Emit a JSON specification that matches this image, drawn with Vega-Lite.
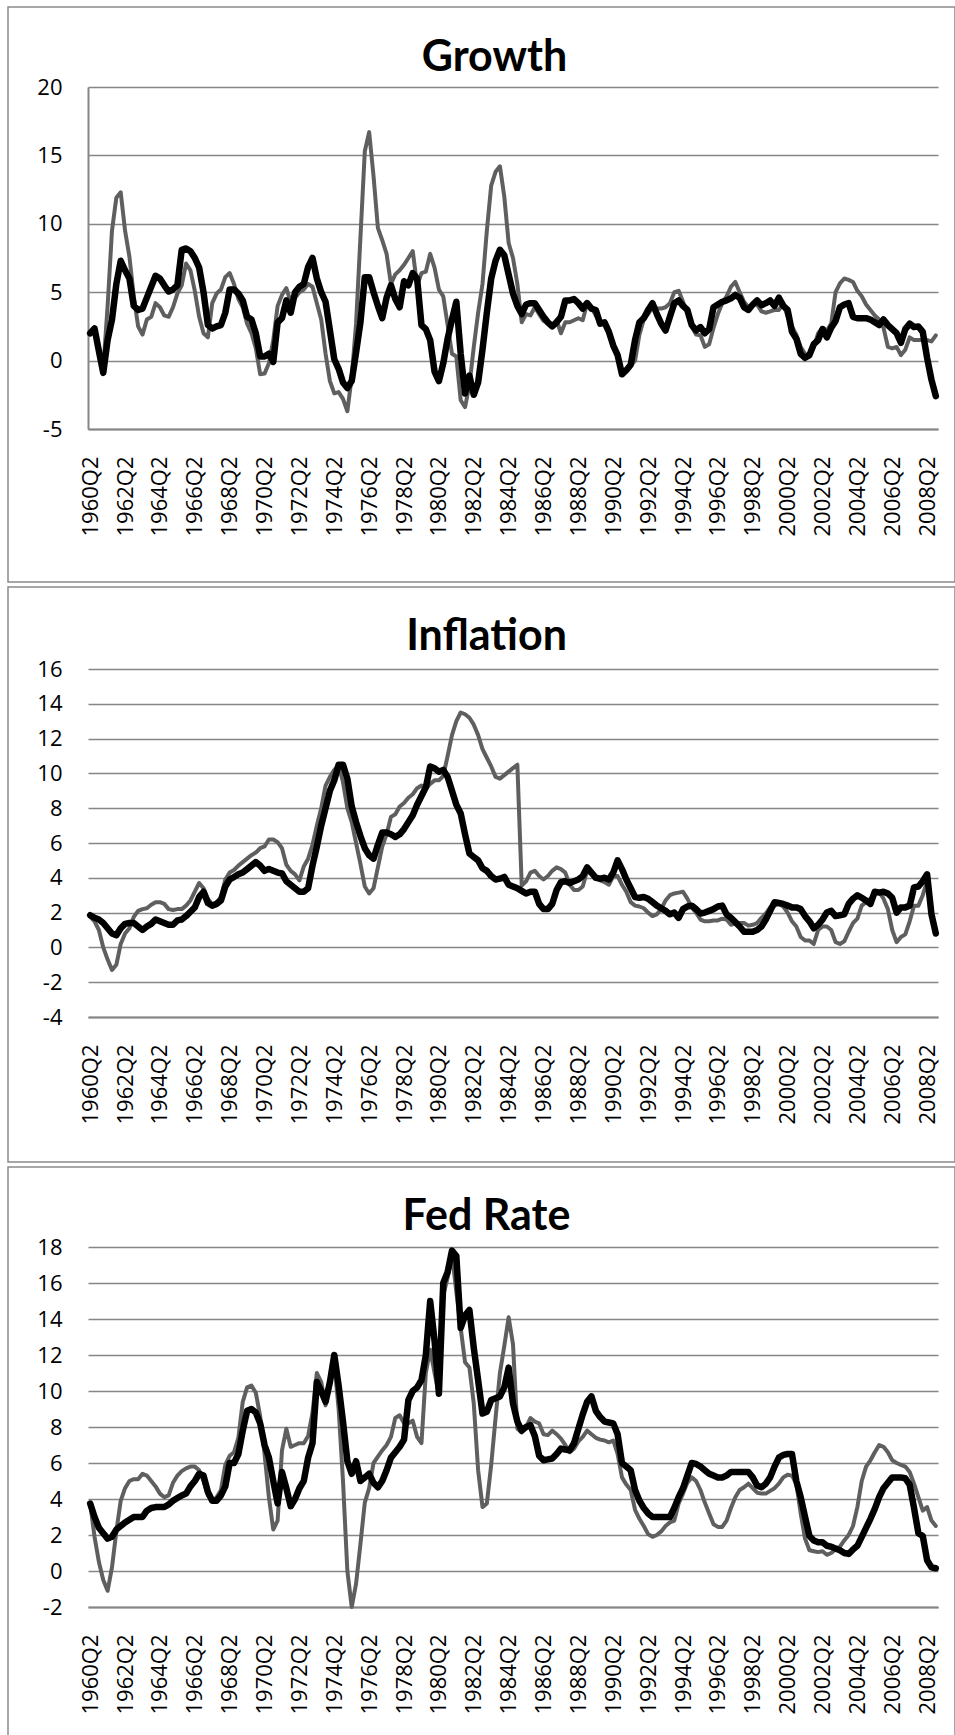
{
  "$schema": "https://vega.github.io/schema/vega-lite/v6.json",
  "background": "white",
  "padding": {"left": 7, "top": 6, "right": 0, "bottom": 0},
  "spacing": 3,
  "config": {
    "view": {"stroke": "#8a8a8a", "strokeWidth": 1.5},
    "axis": {"labelFont": "Open Sans", "labelFontSize": 22, "labelColor": "#000000", "ticks": false, "tickSize": 0, "title": null, "gridColor": "#868686", "gridWidth": 1.3, "domainColor": "#868686", "domainWidth": 2, "labelOverlap": false, "labelBound": false, "labelFlush": false},
    "title": {"font": "Lato", "fontSize": 43, "fontWeight": "bold", "color": "#000000", "anchor": "middle", "frame": "group", "baseline": "alphabetic"}
  },
  "datasets": {
    "growth": [
      {"q":"1960Q2","a":2.0,"b":2.0},{"q":"1960Q3","a":2.4,"b":2.35},{"q":"1960Q4","a":0.8,"b":0.7},
      {"q":"1961Q1","a":-0.6,"b":-0.9},{"q":"1961Q2","a":4.0,"b":1.5},{"q":"1961Q3","a":9.5,"b":3.0},{"q":"1961Q4","a":11.9,"b":5.6},
      {"q":"1962Q1","a":12.3,"b":7.3},{"q":"1962Q2","a":9.5,"b":6.6},{"q":"1962Q3","a":7.6,"b":6.0},{"q":"1962Q4","a":4.7,"b":4.0},
      {"q":"1963Q1","a":2.5,"b":3.7},{"q":"1963Q2","a":1.9,"b":3.8},{"q":"1963Q3","a":3.0,"b":4.6},{"q":"1963Q4","a":3.2,"b":5.4},
      {"q":"1964Q1","a":4.2,"b":6.2},{"q":"1964Q2","a":3.9,"b":6.0},{"q":"1964Q3","a":3.3,"b":5.5},{"q":"1964Q4","a":3.2,"b":5.05},
      {"q":"1965Q1","a":3.9,"b":5.2},{"q":"1965Q2","a":4.9,"b":5.5},{"q":"1965Q3","a":5.5,"b":8.1},{"q":"1965Q4","a":7.1,"b":8.2},
      {"q":"1966Q1","a":6.6,"b":8.0},{"q":"1966Q2","a":5.1,"b":7.5},{"q":"1966Q3","a":3.2,"b":6.8},{"q":"1966Q4","a":2.0,"b":5.0},
      {"q":"1967Q1","a":1.7,"b":2.6},{"q":"1967Q2","a":4.2,"b":2.35},{"q":"1967Q3","a":4.9,"b":2.5},{"q":"1967Q4","a":5.2,"b":2.6},
      {"q":"1968Q1","a":6.1,"b":3.5},{"q":"1968Q2","a":6.4,"b":5.2},{"q":"1968Q3","a":5.6,"b":5.2},{"q":"1968Q4","a":4.5,"b":4.9},
      {"q":"1969Q1","a":3.9,"b":4.4},{"q":"1969Q2","a":2.7,"b":3.2},{"q":"1969Q3","a":2.0,"b":3.0},{"q":"1969Q4","a":0.9,"b":2.0},
      {"q":"1970Q1","a":-1.0,"b":0.3},{"q":"1970Q2","a":-0.95,"b":0.3},{"q":"1970Q3","a":-0.2,"b":0.5},{"q":"1970Q4","a":1.5,"b":-0.1},
      {"q":"1971Q1","a":4.0,"b":2.8},{"q":"1971Q2","a":4.8,"b":3.1},{"q":"1971Q3","a":5.3,"b":4.4},{"q":"1971Q4","a":4.3,"b":3.5},
      {"q":"1972Q1","a":4.6,"b":5.0},{"q":"1972Q2","a":5.0,"b":5.4},{"q":"1972Q3","a":5.2,"b":5.6},{"q":"1972Q4","a":5.6,"b":6.85},
      {"q":"1973Q1","a":5.4,"b":7.5},{"q":"1973Q2","a":4.2,"b":6.0},{"q":"1973Q3","a":3.0,"b":5.0},{"q":"1973Q4","a":0.5,"b":4.3},
      {"q":"1974Q1","a":-1.5,"b":2.2},{"q":"1974Q2","a":-2.4,"b":0.1},{"q":"1974Q3","a":-2.3,"b":-0.6},{"q":"1974Q4","a":-2.8,"b":-1.6},
      {"q":"1975Q1","a":-3.7,"b":-2.0},{"q":"1975Q2","a":-1.2,"b":-1.5},{"q":"1975Q3","a":2.7,"b":0.6},{"q":"1975Q4","a":9.0,"b":2.8},
      {"q":"1976Q1","a":15.3,"b":6.1},{"q":"1976Q2","a":16.7,"b":6.1},{"q":"1976Q3","a":13.5,"b":5.0},{"q":"1976Q4","a":9.7,"b":4.0},
      {"q":"1977Q1","a":8.8,"b":3.1},{"q":"1977Q2","a":7.8,"b":4.6},{"q":"1977Q3","a":5.6,"b":5.5},{"q":"1977Q4","a":6.3,"b":4.5},
      {"q":"1978Q1","a":6.6,"b":3.9},{"q":"1978Q2","a":7.0,"b":5.8},{"q":"1978Q3","a":7.5,"b":5.5},{"q":"1978Q4","a":8.0,"b":6.4},
      {"q":"1979Q1","a":5.5,"b":6.0},{"q":"1979Q2","a":6.4,"b":2.6},{"q":"1979Q3","a":6.5,"b":2.3},{"q":"1979Q4","a":7.8,"b":1.5},
      {"q":"1980Q1","a":6.8,"b":-0.8},{"q":"1980Q2","a":5.2,"b":-1.5},{"q":"1980Q3","a":4.7,"b":-0.2},{"q":"1980Q4","a":2.6,"b":1.6},
      {"q":"1981Q1","a":0.5,"b":3.0},{"q":"1981Q2","a":0.3,"b":4.3},{"q":"1981Q3","a":-2.9,"b":0.5},{"q":"1981Q4","a":-3.4,"b":-2.4},
      {"q":"1982Q1","a":-1.8,"b":-1.1},{"q":"1982Q2","a":1.0,"b":-2.5},{"q":"1982Q3","a":3.5,"b":-1.6},{"q":"1982Q4","a":5.6,"b":0.8},
      {"q":"1983Q1","a":9.5,"b":3.5},{"q":"1983Q2","a":12.8,"b":6.0},{"q":"1983Q3","a":13.8,"b":7.3},{"q":"1983Q4","a":14.2,"b":8.1},
      {"q":"1984Q1","a":12.0,"b":7.7},{"q":"1984Q2","a":8.6,"b":6.3},{"q":"1984Q3","a":7.5,"b":4.9},{"q":"1984Q4","a":5.6,"b":4.0},
      {"q":"1985Q1","a":2.8,"b":3.4},{"q":"1985Q2","a":3.4,"b":4.1},{"q":"1985Q3","a":3.3,"b":4.2},{"q":"1985Q4","a":3.9,"b":4.2},
      {"q":"1986Q1","a":3.4,"b":3.7},{"q":"1986Q2","a":2.9,"b":3.2},{"q":"1986Q3","a":2.7,"b":2.8},{"q":"1986Q4","a":2.6,"b":2.5},
      {"q":"1987Q1","a":2.95,"b":2.8},{"q":"1987Q2","a":2.0,"b":3.2},{"q":"1987Q3","a":2.8,"b":4.4},{"q":"1987Q4","a":2.8,"b":4.4},
      {"q":"1988Q1","a":2.95,"b":4.5},{"q":"1988Q2","a":3.1,"b":4.2},{"q":"1988Q3","a":2.95,"b":3.8},{"q":"1988Q4","a":4.2,"b":4.2},
      {"q":"1989Q1","a":3.9,"b":3.8},{"q":"1989Q2","a":3.3,"b":3.7},{"q":"1989Q3","a":2.7,"b":2.7},{"q":"1989Q4","a":2.7,"b":2.8},
      {"q":"1990Q1","a":2.1,"b":2.1},{"q":"1990Q2","a":1.0,"b":1.1},{"q":"1990Q3","a":0.5,"b":0.4},{"q":"1990Q4","a":-0.8,"b":-1.0},
      {"q":"1991Q1","a":-0.7,"b":-0.7},{"q":"1991Q2","a":-0.4,"b":-0.3},{"q":"1991Q3","a":0.0,"b":1.5},{"q":"1991Q4","a":1.9,"b":2.8},
      {"q":"1992Q1","a":3.0,"b":3.1},{"q":"1992Q2","a":3.4,"b":3.7},{"q":"1992Q3","a":3.9,"b":4.2},{"q":"1992Q4","a":3.8,"b":3.4},
      {"q":"1993Q1","a":3.8,"b":2.7},{"q":"1993Q2","a":3.9,"b":2.2},{"q":"1993Q3","a":4.2,"b":3.2},{"q":"1993Q4","a":5.0,"b":4.2},
      {"q":"1994Q1","a":5.1,"b":4.4},{"q":"1994Q2","a":4.3,"b":4.0},{"q":"1994Q3","a":3.5,"b":3.7},{"q":"1994Q4","a":2.5,"b":2.6},
      {"q":"1995Q1","a":1.9,"b":2.2},{"q":"1995Q2","a":1.85,"b":2.45},{"q":"1995Q3","a":1.0,"b":2.0},{"q":"1995Q4","a":1.2,"b":2.3},
      {"q":"1996Q1","a":2.4,"b":3.9},{"q":"1996Q2","a":3.4,"b":4.1},{"q":"1996Q3","a":4.2,"b":4.3},{"q":"1996Q4","a":4.7,"b":4.4},
      {"q":"1997Q1","a":5.4,"b":4.55},{"q":"1997Q2","a":5.75,"b":4.8},{"q":"1997Q3","a":5.0,"b":4.6},{"q":"1997Q4","a":4.3,"b":3.9},
      {"q":"1998Q1","a":3.9,"b":3.7},{"q":"1998Q2","a":4.1,"b":4.1},{"q":"1998Q3","a":4.1,"b":4.4},{"q":"1998Q4","a":3.6,"b":4.05},
      {"q":"1999Q1","a":3.5,"b":4.2},{"q":"1999Q2","a":3.6,"b":4.4},{"q":"1999Q3","a":3.7,"b":4.0},{"q":"1999Q4","a":3.7,"b":4.6},
      {"q":"2000Q1","a":4.2,"b":4.0},{"q":"2000Q2","a":3.2,"b":3.7},{"q":"2000Q3","a":2.5,"b":2.1},{"q":"2000Q4","a":1.9,"b":1.6},
      {"q":"2001Q1","a":1.0,"b":0.5},{"q":"2001Q2","a":0.5,"b":0.2},{"q":"2001Q3","a":0.3,"b":0.4},{"q":"2001Q4","a":1.0,"b":1.2},
      {"q":"2002Q1","a":2.0,"b":1.5},{"q":"2002Q2","a":2.4,"b":2.3},{"q":"2002Q3","a":2.2,"b":1.7},{"q":"2002Q4","a":2.7,"b":2.4},
      {"q":"2003Q1","a":5.0,"b":2.9},{"q":"2003Q2","a":5.65,"b":3.9},{"q":"2003Q3","a":6.0,"b":4.1},{"q":"2003Q4","a":5.9,"b":4.2},
      {"q":"2004Q1","a":5.75,"b":3.2},{"q":"2004Q2","a":5.1,"b":3.1},{"q":"2004Q3","a":4.7,"b":3.1},{"q":"2004Q4","a":4.1,"b":3.1},
      {"q":"2005Q1","a":3.7,"b":3.0},{"q":"2005Q2","a":3.3,"b":2.8},{"q":"2005Q3","a":3.0,"b":2.6},{"q":"2005Q4","a":2.4,"b":3.0},
      {"q":"2006Q1","a":1.0,"b":2.6},{"q":"2006Q2","a":0.9,"b":2.3},{"q":"2006Q3","a":1.0,"b":2.0},{"q":"2006Q4","a":0.4,"b":1.3},
      {"q":"2007Q1","a":0.8,"b":2.3},{"q":"2007Q2","a":1.7,"b":2.7},{"q":"2007Q3","a":1.5,"b":2.45},{"q":"2007Q4","a":1.5,"b":2.5},
      {"q":"2008Q1","a":1.5,"b":2.1},{"q":"2008Q2","a":1.5,"b":0.2},{"q":"2008Q3","a":1.4,"b":-1.4},{"q":"2008Q4","a":1.85,"b":-2.6}
    ],
    "inflation": [
      {"q":"1960Q2","a":1.75,"b":1.85},{"q":"1960Q3","a":1.5,"b":1.7},{"q":"1960Q4","a":1.0,"b":1.6},
      {"q":"1961Q1","a":0.0,"b":1.4},{"q":"1961Q2","a":-0.7,"b":1.1},{"q":"1961Q3","a":-1.3,"b":0.8},{"q":"1961Q4","a":-1.0,"b":0.7},
      {"q":"1962Q1","a":0.2,"b":1.1},{"q":"1962Q2","a":0.8,"b":1.35},{"q":"1962Q3","a":1.1,"b":1.4},{"q":"1962Q4","a":1.75,"b":1.4},
      {"q":"1963Q1","a":2.1,"b":1.2},{"q":"1963Q2","a":2.2,"b":1.0},{"q":"1963Q3","a":2.25,"b":1.2},{"q":"1963Q4","a":2.45,"b":1.35},
      {"q":"1964Q1","a":2.6,"b":1.6},{"q":"1964Q2","a":2.6,"b":1.5},{"q":"1964Q3","a":2.5,"b":1.4},{"q":"1964Q4","a":2.2,"b":1.3},
      {"q":"1965Q1","a":2.15,"b":1.3},{"q":"1965Q2","a":2.2,"b":1.55},{"q":"1965Q3","a":2.2,"b":1.6},{"q":"1965Q4","a":2.4,"b":1.8},
      {"q":"1966Q1","a":2.7,"b":2.05},{"q":"1966Q2","a":3.2,"b":2.3},{"q":"1966Q3","a":3.7,"b":2.9},{"q":"1966Q4","a":3.4,"b":3.2},
      {"q":"1967Q1","a":2.8,"b":2.55},{"q":"1967Q2","a":2.45,"b":2.4},{"q":"1967Q3","a":2.6,"b":2.5},{"q":"1967Q4","a":2.9,"b":2.7},
      {"q":"1968Q1","a":3.9,"b":3.5},{"q":"1968Q2","a":4.3,"b":3.9},{"q":"1968Q3","a":4.45,"b":4.05},{"q":"1968Q4","a":4.7,"b":4.2},
      {"q":"1969Q1","a":4.9,"b":4.3},{"q":"1969Q2","a":5.1,"b":4.5},{"q":"1969Q3","a":5.3,"b":4.7},{"q":"1969Q4","a":5.45,"b":4.9},
      {"q":"1970Q1","a":5.7,"b":4.7},{"q":"1970Q2","a":5.8,"b":4.4},{"q":"1970Q3","a":6.2,"b":4.5},{"q":"1970Q4","a":6.2,"b":4.4},
      {"q":"1971Q1","a":6.05,"b":4.3},{"q":"1971Q2","a":5.7,"b":4.25},{"q":"1971Q3","a":4.75,"b":3.8},{"q":"1971Q4","a":4.4,"b":3.6},
      {"q":"1972Q1","a":4.2,"b":3.4},{"q":"1972Q2","a":3.85,"b":3.2},{"q":"1972Q3","a":4.65,"b":3.2},{"q":"1972Q4","a":5.1,"b":3.4},
      {"q":"1973Q1","a":5.9,"b":4.7},{"q":"1973Q2","a":7.0,"b":5.8},{"q":"1973Q3","a":8.0,"b":7.0},{"q":"1973Q4","a":9.3,"b":8.0},
      {"q":"1974Q1","a":9.8,"b":9.0},{"q":"1974Q2","a":10.2,"b":9.6},{"q":"1974Q3","a":10.5,"b":10.5},{"q":"1974Q4","a":9.5,"b":10.5},
      {"q":"1975Q1","a":8.0,"b":9.7},{"q":"1975Q2","a":7.2,"b":8.1},{"q":"1975Q3","a":6.0,"b":7.2},{"q":"1975Q4","a":4.8,"b":6.4},
      {"q":"1976Q1","a":3.5,"b":5.7},{"q":"1976Q2","a":3.1,"b":5.3},{"q":"1976Q3","a":3.4,"b":5.1},{"q":"1976Q4","a":4.6,"b":5.9},
      {"q":"1977Q1","a":5.8,"b":6.6},{"q":"1977Q2","a":6.5,"b":6.6},{"q":"1977Q3","a":7.5,"b":6.5},{"q":"1977Q4","a":7.65,"b":6.35},
      {"q":"1978Q1","a":8.1,"b":6.5},{"q":"1978Q2","a":8.3,"b":6.8},{"q":"1978Q3","a":8.6,"b":7.2},{"q":"1978Q4","a":8.8,"b":7.6},
      {"q":"1979Q1","a":9.15,"b":8.2},{"q":"1979Q2","a":9.3,"b":8.7},{"q":"1979Q3","a":9.1,"b":9.2},{"q":"1979Q4","a":9.4,"b":10.4},
      {"q":"1980Q1","a":9.6,"b":10.3},{"q":"1980Q2","a":9.6,"b":10.1},{"q":"1980Q3","a":9.85,"b":10.2},{"q":"1980Q4","a":11.0,"b":9.8},
      {"q":"1981Q1","a":12.2,"b":9.0},{"q":"1981Q2","a":13.0,"b":8.2},{"q":"1981Q3","a":13.5,"b":7.7},{"q":"1981Q4","a":13.4,"b":6.5},
      {"q":"1982Q1","a":13.2,"b":5.4},{"q":"1982Q2","a":12.8,"b":5.2},{"q":"1982Q3","a":12.2,"b":5.0},{"q":"1982Q4","a":11.4,"b":4.55},
      {"q":"1983Q1","a":10.9,"b":4.4},{"q":"1983Q2","a":10.4,"b":4.1},{"q":"1983Q3","a":9.8,"b":3.9},{"q":"1983Q4","a":9.7,"b":3.95},
      {"q":"1984Q1","a":9.9,"b":4.05},{"q":"1984Q2","a":10.1,"b":3.6},{"q":"1984Q3","a":10.3,"b":3.5},{"q":"1984Q4","a":10.5,"b":3.4},
      {"q":"1985Q1","a":3.55,"b":3.25},{"q":"1985Q2","a":3.8,"b":3.1},{"q":"1985Q3","a":4.3,"b":3.2},{"q":"1985Q4","a":4.4,"b":3.2},
      {"q":"1986Q1","a":4.1,"b":2.5},{"q":"1986Q2","a":3.9,"b":2.2},{"q":"1986Q3","a":4.1,"b":2.2},{"q":"1986Q4","a":4.4,"b":2.5},
      {"q":"1987Q1","a":4.6,"b":3.3},{"q":"1987Q2","a":4.5,"b":3.75},{"q":"1987Q3","a":4.3,"b":3.8},{"q":"1987Q4","a":3.6,"b":3.7},
      {"q":"1988Q1","a":3.3,"b":3.8},{"q":"1988Q2","a":3.3,"b":3.9},{"q":"1988Q3","a":3.5,"b":4.1},{"q":"1988Q4","a":4.4,"b":4.6},
      {"q":"1989Q1","a":4.2,"b":4.3},{"q":"1989Q2","a":4.0,"b":4.0},{"q":"1989Q3","a":3.85,"b":3.95},{"q":"1989Q4","a":3.75,"b":4.0},
      {"q":"1990Q1","a":3.6,"b":3.9},{"q":"1990Q2","a":4.1,"b":4.3},{"q":"1990Q3","a":4.1,"b":5.0},{"q":"1990Q4","a":3.6,"b":4.5},
      {"q":"1991Q1","a":3.2,"b":3.9},{"q":"1991Q2","a":2.6,"b":3.4},{"q":"1991Q3","a":2.4,"b":2.9},{"q":"1991Q4","a":2.35,"b":2.85},
      {"q":"1992Q1","a":2.25,"b":2.9},{"q":"1992Q2","a":2.0,"b":2.8},{"q":"1992Q3","a":1.8,"b":2.6},{"q":"1992Q4","a":1.9,"b":2.4},
      {"q":"1993Q1","a":2.2,"b":2.25},{"q":"1993Q2","a":2.7,"b":2.1},{"q":"1993Q3","a":3.0,"b":1.9},{"q":"1993Q4","a":3.1,"b":2.0},
      {"q":"1994Q1","a":3.15,"b":1.7},{"q":"1994Q2","a":3.2,"b":2.2},{"q":"1994Q3","a":2.8,"b":2.35},{"q":"1994Q4","a":2.3,"b":2.4},
      {"q":"1995Q1","a":2.0,"b":2.2},{"q":"1995Q2","a":1.6,"b":1.95},{"q":"1995Q3","a":1.5,"b":2.0},{"q":"1995Q4","a":1.5,"b":2.1},
      {"q":"1996Q1","a":1.55,"b":2.2},{"q":"1996Q2","a":1.55,"b":2.35},{"q":"1996Q3","a":1.65,"b":2.4},{"q":"1996Q4","a":1.6,"b":1.9},
      {"q":"1997Q1","a":1.3,"b":1.7},{"q":"1997Q2","a":1.4,"b":1.45},{"q":"1997Q3","a":1.4,"b":1.2},{"q":"1997Q4","a":1.4,"b":0.9},
      {"q":"1998Q1","a":1.25,"b":0.9},{"q":"1998Q2","a":1.3,"b":0.9},{"q":"1998Q3","a":1.4,"b":1.0},{"q":"1998Q4","a":1.7,"b":1.2},
      {"q":"1999Q1","a":1.95,"b":1.6},{"q":"1999Q2","a":2.3,"b":2.1},{"q":"1999Q3","a":2.4,"b":2.6},{"q":"1999Q4","a":2.5,"b":2.55},
      {"q":"2000Q1","a":2.35,"b":2.5},{"q":"2000Q2","a":2.0,"b":2.4},{"q":"2000Q3","a":1.5,"b":2.3},{"q":"2000Q4","a":1.2,"b":2.3},
      {"q":"2001Q1","a":0.6,"b":2.2},{"q":"2001Q2","a":0.4,"b":1.8},{"q":"2001Q3","a":0.4,"b":1.5},{"q":"2001Q4","a":0.2,"b":1.1},
      {"q":"2002Q1","a":1.0,"b":1.3},{"q":"2002Q2","a":1.2,"b":1.6},{"q":"2002Q3","a":1.2,"b":2.0},{"q":"2002Q4","a":1.0,"b":2.1},
      {"q":"2003Q1","a":0.3,"b":1.8},{"q":"2003Q2","a":0.2,"b":1.85},{"q":"2003Q3","a":0.35,"b":1.9},{"q":"2003Q4","a":0.9,"b":2.5},
      {"q":"2004Q1","a":1.4,"b":2.8},{"q":"2004Q2","a":1.65,"b":3.0},{"q":"2004Q3","a":2.4,"b":2.85},{"q":"2004Q4","a":2.6,"b":2.7},
      {"q":"2005Q1","a":2.8,"b":2.5},{"q":"2005Q2","a":3.1,"b":3.2},{"q":"2005Q3","a":3.2,"b":3.15},{"q":"2005Q4","a":2.8,"b":3.2},
      {"q":"2006Q1","a":2.2,"b":3.1},{"q":"2006Q2","a":1.0,"b":2.85},{"q":"2006Q3","a":0.3,"b":2.0},{"q":"2006Q4","a":0.6,"b":2.3},
      {"q":"2007Q1","a":0.75,"b":2.3},{"q":"2007Q2","a":1.5,"b":2.4},{"q":"2007Q3","a":2.4,"b":3.45},{"q":"2007Q4","a":2.4,"b":3.5},
      {"q":"2008Q1","a":3.0,"b":3.8},{"q":"2008Q2","a":3.8,"b":4.2},{"q":"2008Q3","a":2.0,"b":1.9},{"q":"2008Q4","a":1.0,"b":0.8}
    ],
    "fed": [
      {"q":"1960Q2","a":3.75,"b":3.75},{"q":"1960Q3","a":1.9,"b":3.0},{"q":"1960Q4","a":0.5,"b":2.4},
      {"q":"1961Q1","a":-0.5,"b":2.1},{"q":"1961Q2","a":-1.1,"b":1.8},{"q":"1961Q3","a":0.2,"b":1.9},{"q":"1961Q4","a":2.2,"b":2.3},
      {"q":"1962Q1","a":3.9,"b":2.5},{"q":"1962Q2","a":4.6,"b":2.7},{"q":"1962Q3","a":5.0,"b":2.85},{"q":"1962Q4","a":5.1,"b":3.0},
      {"q":"1963Q1","a":5.1,"b":3.0},{"q":"1963Q2","a":5.4,"b":3.0},{"q":"1963Q3","a":5.3,"b":3.35},{"q":"1963Q4","a":5.0,"b":3.5},
      {"q":"1964Q1","a":4.7,"b":3.55},{"q":"1964Q2","a":4.3,"b":3.55},{"q":"1964Q3","a":4.1,"b":3.55},{"q":"1964Q4","a":4.2,"b":3.7},
      {"q":"1965Q1","a":4.9,"b":3.9},{"q":"1965Q2","a":5.3,"b":4.05},{"q":"1965Q3","a":5.55,"b":4.2},{"q":"1965Q4","a":5.7,"b":4.3},
      {"q":"1966Q1","a":5.8,"b":4.7},{"q":"1966Q2","a":5.8,"b":5.0},{"q":"1966Q3","a":5.6,"b":5.4},{"q":"1966Q4","a":5.0,"b":5.3},
      {"q":"1967Q1","a":4.2,"b":4.4},{"q":"1967Q2","a":3.9,"b":3.9},{"q":"1967Q3","a":4.1,"b":3.9},{"q":"1967Q4","a":4.5,"b":4.2},
      {"q":"1968Q1","a":5.9,"b":4.7},{"q":"1968Q2","a":6.4,"b":6.0},{"q":"1968Q3","a":6.6,"b":6.0},{"q":"1968Q4","a":7.4,"b":6.5},
      {"q":"1969Q1","a":9.4,"b":7.8},{"q":"1969Q2","a":10.2,"b":8.9},{"q":"1969Q3","a":10.3,"b":9.0},{"q":"1969Q4","a":9.9,"b":8.8},
      {"q":"1970Q1","a":8.6,"b":8.2},{"q":"1970Q2","a":6.5,"b":7.0},{"q":"1970Q3","a":4.1,"b":6.3},{"q":"1970Q4","a":2.3,"b":5.0},
      {"q":"1971Q1","a":2.8,"b":3.75},{"q":"1971Q2","a":6.7,"b":5.5},{"q":"1971Q3","a":7.9,"b":4.6},{"q":"1971Q4","a":6.9,"b":3.6},
      {"q":"1972Q1","a":7.0,"b":4.0},{"q":"1972Q2","a":7.1,"b":4.6},{"q":"1972Q3","a":7.1,"b":5.0},{"q":"1972Q4","a":7.5,"b":6.3},
      {"q":"1973Q1","a":8.8,"b":7.1},{"q":"1973Q2","a":11.0,"b":10.5},{"q":"1973Q3","a":10.5,"b":10.0},{"q":"1973Q4","a":9.2,"b":9.4},
      {"q":"1974Q1","a":10.3,"b":10.5},{"q":"1974Q2","a":11.6,"b":12.0},{"q":"1974Q3","a":9.0,"b":10.3},{"q":"1974Q4","a":5.0,"b":8.3},
      {"q":"1975Q1","a":0.0,"b":6.1},{"q":"1975Q2","a":-2.0,"b":5.4},{"q":"1975Q3","a":-0.7,"b":6.1},{"q":"1975Q4","a":1.5,"b":5.0},
      {"q":"1976Q1","a":3.8,"b":5.2},{"q":"1976Q2","a":4.6,"b":5.4},{"q":"1976Q3","a":6.0,"b":4.9},{"q":"1976Q4","a":6.35,"b":4.65},
      {"q":"1977Q1","a":6.7,"b":5.0},{"q":"1977Q2","a":7.0,"b":5.6},{"q":"1977Q3","a":7.45,"b":6.3},{"q":"1977Q4","a":8.5,"b":6.6},
      {"q":"1978Q1","a":8.65,"b":6.9},{"q":"1978Q2","a":8.2,"b":7.3},{"q":"1978Q3","a":8.2,"b":9.5},{"q":"1978Q4","a":8.35,"b":10.0},
      {"q":"1979Q1","a":7.45,"b":10.2},{"q":"1979Q2","a":7.1,"b":10.6},{"q":"1979Q3","a":11.0,"b":12.0},{"q":"1979Q4","a":12.3,"b":15.0},
      {"q":"1980Q1","a":11.0,"b":12.8},{"q":"1980Q2","a":9.85,"b":9.85},{"q":"1980Q3","a":15.3,"b":16.0},{"q":"1980Q4","a":16.3,"b":16.6},
      {"q":"1981Q1","a":17.6,"b":17.8},{"q":"1981Q2","a":15.5,"b":17.5},{"q":"1981Q3","a":13.5,"b":13.5},{"q":"1981Q4","a":11.6,"b":14.2},
      {"q":"1982Q1","a":11.3,"b":14.5},{"q":"1982Q2","a":9.3,"b":12.4},{"q":"1982Q3","a":5.6,"b":10.6},{"q":"1982Q4","a":3.55,"b":8.75},
      {"q":"1983Q1","a":3.75,"b":8.85},{"q":"1983Q2","a":5.9,"b":9.5},{"q":"1983Q3","a":8.5,"b":9.6},{"q":"1983Q4","a":11.0,"b":9.7},
      {"q":"1984Q1","a":12.5,"b":10.2},{"q":"1984Q2","a":14.1,"b":11.3},{"q":"1984Q3","a":12.6,"b":9.3},{"q":"1984Q4","a":7.9,"b":8.3},
      {"q":"1985Q1","a":7.7,"b":7.8},{"q":"1985Q2","a":8.0,"b":8.0},{"q":"1985Q3","a":8.5,"b":8.1},{"q":"1985Q4","a":8.3,"b":7.5},
      {"q":"1986Q1","a":8.2,"b":6.4},{"q":"1986Q2","a":7.6,"b":6.15},{"q":"1986Q3","a":7.55,"b":6.2},{"q":"1986Q4","a":7.8,"b":6.25},
      {"q":"1987Q1","a":7.6,"b":6.5},{"q":"1987Q2","a":7.35,"b":6.8},{"q":"1987Q3","a":7.0,"b":6.75},{"q":"1987Q4","a":6.6,"b":6.7},
      {"q":"1988Q1","a":6.8,"b":7.1},{"q":"1988Q2","a":7.2,"b":7.9},{"q":"1988Q3","a":7.45,"b":8.7},{"q":"1988Q4","a":7.8,"b":9.4},
      {"q":"1989Q1","a":7.6,"b":9.7},{"q":"1989Q2","a":7.4,"b":8.9},{"q":"1989Q3","a":7.3,"b":8.55},{"q":"1989Q4","a":7.25,"b":8.3},
      {"q":"1990Q1","a":7.15,"b":8.25},{"q":"1990Q2","a":7.25,"b":8.2},{"q":"1990Q3","a":6.5,"b":7.6},{"q":"1990Q4","a":5.2,"b":6.0},
      {"q":"1991Q1","a":4.8,"b":5.8},{"q":"1991Q2","a":4.5,"b":5.6},{"q":"1991Q3","a":3.4,"b":4.5},{"q":"1991Q4","a":2.9,"b":3.9},
      {"q":"1992Q1","a":2.5,"b":3.5},{"q":"1992Q2","a":2.05,"b":3.2},{"q":"1992Q3","a":1.9,"b":3.0},{"q":"1992Q4","a":2.0,"b":3.0},
      {"q":"1993Q1","a":2.2,"b":3.0},{"q":"1993Q2","a":2.5,"b":3.0},{"q":"1993Q3","a":2.7,"b":3.0},{"q":"1993Q4","a":2.8,"b":3.5},
      {"q":"1994Q1","a":3.75,"b":4.1},{"q":"1994Q2","a":4.3,"b":4.6},{"q":"1994Q3","a":4.9,"b":5.3},{"q":"1994Q4","a":5.2,"b":6.0},
      {"q":"1995Q1","a":5.0,"b":5.95},{"q":"1995Q2","a":4.5,"b":5.8},{"q":"1995Q3","a":3.8,"b":5.6},{"q":"1995Q4","a":3.2,"b":5.4},
      {"q":"1996Q1","a":2.6,"b":5.3},{"q":"1996Q2","a":2.45,"b":5.2},{"q":"1996Q3","a":2.45,"b":5.2},{"q":"1996Q4","a":2.8,"b":5.3},
      {"q":"1997Q1","a":3.5,"b":5.5},{"q":"1997Q2","a":4.1,"b":5.5},{"q":"1997Q3","a":4.5,"b":5.5},{"q":"1997Q4","a":4.65,"b":5.5},
      {"q":"1998Q1","a":4.85,"b":5.5},{"q":"1998Q2","a":4.6,"b":5.2},{"q":"1998Q3","a":4.35,"b":4.75},{"q":"1998Q4","a":4.3,"b":4.65},
      {"q":"1999Q1","a":4.3,"b":4.85},{"q":"1999Q2","a":4.45,"b":5.2},{"q":"1999Q3","a":4.6,"b":5.8},{"q":"1999Q4","a":4.85,"b":6.3},
      {"q":"2000Q1","a":5.2,"b":6.45},{"q":"2000Q2","a":5.35,"b":6.5},{"q":"2000Q3","a":5.3,"b":6.5},{"q":"2000Q4","a":4.85,"b":5.0},
      {"q":"2001Q1","a":3.2,"b":4.1},{"q":"2001Q2","a":1.8,"b":3.0},{"q":"2001Q3","a":1.15,"b":1.95},{"q":"2001Q4","a":1.1,"b":1.7},
      {"q":"2002Q1","a":1.05,"b":1.6},{"q":"2002Q2","a":1.1,"b":1.6},{"q":"2002Q3","a":0.9,"b":1.4},{"q":"2002Q4","a":1.0,"b":1.35},
      {"q":"2003Q1","a":1.2,"b":1.25},{"q":"2003Q2","a":1.35,"b":1.15},{"q":"2003Q3","a":1.7,"b":1.0},{"q":"2003Q4","a":2.0,"b":0.95},
      {"q":"2004Q1","a":2.5,"b":1.2},{"q":"2004Q2","a":3.55,"b":1.4},{"q":"2004Q3","a":5.0,"b":1.9},{"q":"2004Q4","a":5.8,"b":2.4},
      {"q":"2005Q1","a":6.15,"b":2.9},{"q":"2005Q2","a":6.6,"b":3.45},{"q":"2005Q3","a":7.0,"b":4.1},{"q":"2005Q4","a":6.9,"b":4.6},
      {"q":"2006Q1","a":6.6,"b":4.9},{"q":"2006Q2","a":6.15,"b":5.2},{"q":"2006Q3","a":6.0,"b":5.2},{"q":"2006Q4","a":5.9,"b":5.2},
      {"q":"2007Q1","a":5.8,"b":5.15},{"q":"2007Q2","a":5.5,"b":4.8},{"q":"2007Q3","a":4.85,"b":3.5},{"q":"2007Q4","a":4.1,"b":2.1},
      {"q":"2008Q1","a":3.35,"b":1.95},{"q":"2008Q2","a":3.55,"b":0.6},{"q":"2008Q3","a":2.8,"b":0.2},{"q":"2008Q4","a":2.5,"b":0.15}
    ]
  },
  "vconcat": [
    {
      "width": 947, "height": 575,
      "title": {"text": "Growth", "offset": -73, "dx": 13},
      "data": {"name": "growth"},
      "encoding": {
        "x": {"field": "q", "type": "ordinal", "scale": {"range": [80, 930], "padding": 0.5},
          "axis": {"values": ["1960Q2","1962Q2","1964Q2","1966Q2","1968Q2","1970Q2","1972Q2","1974Q2","1976Q2","1978Q2","1980Q2","1982Q2","1984Q2","1986Q2","1988Q2","1990Q2","1992Q2","1994Q2","1996Q2","1998Q2","2000Q2","2002Q2","2004Q2","2006Q2","2008Q2"],
            "labelAngle": -90, "labelPadding": 27, "offset": -153, "grid": false, "domain": true}}
      },
      "layer": [
        {"mark": {"type": "line", "color": "#5f5f5f", "strokeWidth": 4, "strokeJoin": "round", "strokeCap": "round"},
         "encoding": {"y": {"field": "a", "type": "quantitative", "scale": {"domain": [-5, 20], "range": [422, 80], "nice": false, "zero": false},
           "axis": {"values": [-5, 0, 5, 10, 15, 20], "labelExpr": "'' + datum.value", "offset": -80, "labelPadding": 26, "grid": true, "domain": true}}}},
        {"mark": {"type": "line", "color": "#000000", "strokeWidth": 6.5, "strokeJoin": "round", "strokeCap": "round"},
         "encoding": {"y": {"field": "b", "type": "quantitative"}}}
      ]
    },
    {
      "width": 947, "height": 575,
      "title": {"text": "Inflation", "offset": -72, "dx": 5},
      "data": {"name": "inflation"},
      "encoding": {
        "x": {"field": "q", "type": "ordinal", "scale": {"range": [80, 930], "padding": 0.5},
          "axis": {"values": ["1960Q2","1962Q2","1964Q2","1966Q2","1968Q2","1970Q2","1972Q2","1974Q2","1976Q2","1978Q2","1980Q2","1982Q2","1984Q2","1986Q2","1988Q2","1990Q2","1992Q2","1994Q2","1996Q2","1998Q2","2000Q2","2002Q2","2004Q2","2006Q2","2008Q2"],
            "labelAngle": -90, "labelPadding": 27, "offset": -145, "grid": false, "domain": true}}
      },
      "layer": [
        {"mark": {"type": "line", "color": "#5f5f5f", "strokeWidth": 4, "strokeJoin": "round", "strokeCap": "round"},
         "encoding": {"y": {"field": "a", "type": "quantitative", "scale": {"domain": [-4, 16], "range": [430, 82], "nice": false, "zero": false},
           "axis": {"values": [-4, -2, 0, 2, 4, 6, 8, 10, 12, 14, 16], "labelExpr": "'' + datum.value", "offset": -80, "labelPadding": 26, "grid": true, "domain": false}}}},
        {"mark": {"type": "line", "color": "#000000", "strokeWidth": 6.5, "strokeJoin": "round", "strokeCap": "round"},
         "encoding": {"y": {"field": "b", "type": "quantitative"}}}
      ]
    },
    {
      "width": 947, "height": 575,
      "title": {"text": "Fed Rate", "offset": -72, "dx": 5},
      "data": {"name": "fed"},
      "encoding": {
        "x": {"field": "q", "type": "ordinal", "scale": {"range": [80, 930], "padding": 0.5},
          "axis": {"values": ["1960Q2","1962Q2","1964Q2","1966Q2","1968Q2","1970Q2","1972Q2","1974Q2","1976Q2","1978Q2","1980Q2","1982Q2","1984Q2","1986Q2","1988Q2","1990Q2","1992Q2","1994Q2","1996Q2","1998Q2","2000Q2","2002Q2","2004Q2","2006Q2","2008Q2"],
            "labelAngle": -90, "labelPadding": 27, "offset": -135, "grid": false, "domain": true}}
      },
      "layer": [
        {"mark": {"type": "line", "color": "#5f5f5f", "strokeWidth": 4, "strokeJoin": "round", "strokeCap": "round"},
         "encoding": {"y": {"field": "a", "type": "quantitative", "scale": {"domain": [-2, 18], "range": [440, 80], "nice": false, "zero": false},
           "axis": {"values": [-2, 0, 2, 4, 6, 8, 10, 12, 14, 16, 18], "labelExpr": "'' + datum.value", "offset": -80, "labelPadding": 26, "grid": true, "domain": false}}}},
        {"mark": {"type": "line", "color": "#000000", "strokeWidth": 6.5, "strokeJoin": "round", "strokeCap": "round"},
         "encoding": {"y": {"field": "b", "type": "quantitative"}}}
      ]
    }
  ]
}
